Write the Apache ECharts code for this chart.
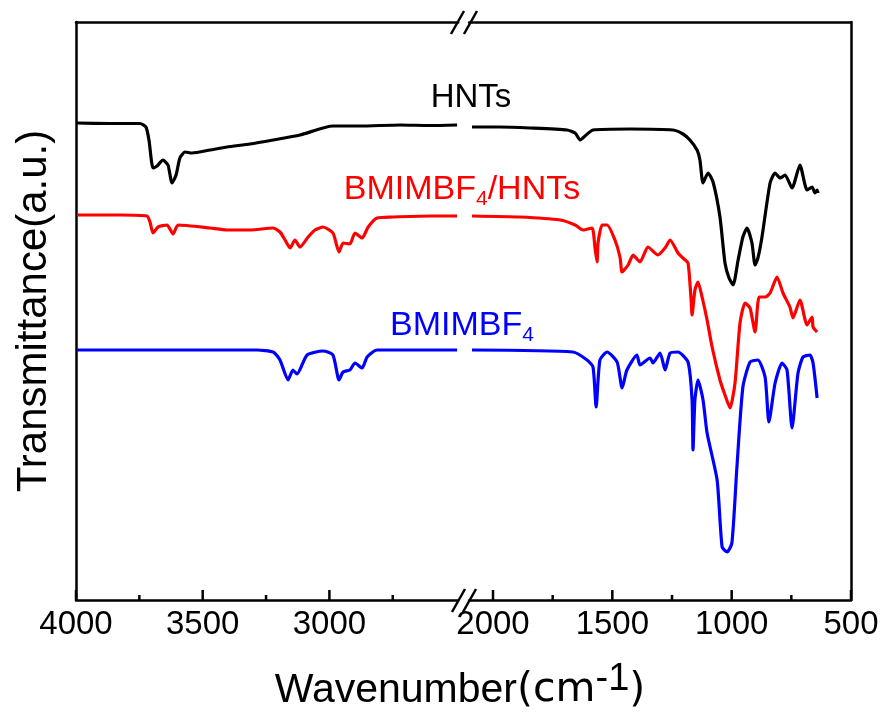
<!DOCTYPE html>
<html>
<head>
<meta charset="utf-8">
<script src="https://cdn.jsdelivr.net/npm/echarts@6/dist/echarts.min.js"></script>
<style>
  html, body { margin: 0; padding: 0; background: #fff; }
  #chart { width: 884px; height: 713px; }
</style>
</head>
<body>
<div id="chart"></div>
<script>
// ---------- Data (wavenumber in cm^-1, transmittance in a.u.) ----------
const leftRange = [2492, 4000];
const rightRange = [500, 2100];
const leftMajorTicks = [4000, 3500, 3000];
const leftMinorTicks = [3750, 3250, 2750];
const rightMajorTicks = [2000, 1500, 1000, 500];
const rightMinorTicks = [1750, 1250, 750];

const hntsLeftWn = [3996, 3866, 3747, 3724, 3712, 3696, 3680, 3657, 3637, 3621, 3605, 3590, 3570, 3542, 3471, 3404, 3313, 3222, 3116, 2986, 2879, 2721, 2603, 2496];
const hntsLeftT  = [477, 476.5, 476.5, 473, 460, 432, 434, 440, 435, 417, 425, 442, 448, 447, 450, 453, 456, 460, 465, 474, 474, 475, 474.5, 475];

const hntsRightWn = [2088, 1971, 1845, 1690, 1656, 1635, 1610, 1581, 1426, 1246, 1204, 1175, 1145, 1133, 1120, 1099, 1078, 1049, 1028, 1011, 994, 973, 953, 936, 915, 902, 890, 873, 839, 818, 797, 776, 747, 714, 684, 663, 651, 642, 638];
const hntsRightT  = [473, 473, 472, 470, 467, 460, 465, 470, 471, 470, 466, 460, 450, 440, 417, 427, 418, 383, 337, 322, 315, 340, 363, 372, 357, 335, 342, 363, 417, 427, 422, 425, 412, 435, 410, 413, 407, 410, 407];

const mixLeftWn = [3996, 3826, 3720, 3708, 3696, 3676, 3641, 3617, 3597, 3471, 3404, 3313, 3222, 3195, 3175, 3155, 3136, 3116, 3084, 3057, 3025, 2986, 2962, 2946, 2919, 2899, 2871, 2847, 2812, 2749, 2603, 2496];
const mixLeftT  = [385, 385, 384, 378, 367, 373, 375, 366, 375, 372, 370, 370, 372, 368, 360, 352, 360, 353, 363, 370, 373, 367, 348, 357, 356, 367, 362, 373, 382, 383, 384, 384];

const mixRightWn = [2088, 1887, 1719, 1656, 1623, 1585, 1573, 1564, 1560, 1543, 1522, 1489, 1468, 1459, 1434, 1413, 1384, 1351, 1309, 1279, 1258, 1225, 1204, 1183, 1170, 1166, 1154, 1141, 1124, 1103, 1082, 1049, 1028, 1007, 986, 965, 944, 923, 902, 885, 860, 839, 810, 785, 756, 743, 714, 684, 663, 659, 642];
const mixRightT  = [384, 383, 380, 375, 370, 372, 353, 338, 357, 375, 375, 360, 343, 328, 335, 345, 338, 353, 345, 352, 360, 347, 342, 337, 300, 285, 310, 318, 303, 280, 253, 220, 205, 192, 217, 277, 297, 292, 268, 303, 303, 307, 323, 307, 293, 282, 300, 275, 283, 273, 268];

const ilLeftWn = [3996, 3286, 3222, 3195, 3163, 3144, 3128, 3088, 3025, 2986, 2962, 2946, 2919, 2899, 2871, 2851, 2812, 2496];
const ilLeftT  = [250, 250, 248, 240, 220, 230, 226, 245, 249, 245, 220, 228, 230, 237, 232, 243, 250, 250];

const ilRightWn = [2088, 1665, 1606, 1581, 1568, 1552, 1522, 1480, 1459, 1439, 1397, 1384, 1342, 1330, 1300, 1279, 1258, 1225, 1183, 1166, 1162, 1154, 1141, 1120, 1103, 1061, 1040, 1019, 999, 978, 953, 923, 890, 860, 844, 818, 789, 768, 747, 722, 701, 672, 659, 642];
const ilRightT  = [250, 248, 240, 233, 193, 240, 248, 238, 212, 230, 245, 235, 242, 237, 247, 230, 247, 248, 238, 200, 150, 200, 220, 200, 167, 120, 53, 48, 57, 133, 213, 238, 240, 223, 178, 217, 237, 230, 172, 227, 243, 245, 237, 202];

const seriesNames = ['HNTs', 'BMIMBF4/HNTs', 'BMIMBF4'];
const seriesColors = ['#000000', '#ff0000', '#0000ff'];

function zip(a, b) { return a.map((v, i) => [v, b[i]]); }

const FONT = 'Liberation Sans, Arial, sans-serif';
const AX_W = 2.5;
const TOP = 22, HEIGHT = 578;
const AXIS_Y = TOP + HEIGHT;

// pixel scale of each axis segment (px per cm^-1), shared by grids and tick marks
const leftScale = 126.7 / 500;
const rightScale = 119.33 / 500;
const leftX4000 = 76;
const rightX500 = 851;
const lx = (w) => leftX4000 + (4000 - w) * leftScale;
const rx = (w) => rightX500 - (w - 500) * rightScale;
function gridFor(xa, xb) {
  return { left: Math.min(xa, xb), top: TOP, width: Math.abs(xb - xa), height: HEIGHT };
}

const chart = echarts.init(document.getElementById('chart'), null, { renderer: 'canvas' });

function bottomAxis(grid, range, labels) {
  return {
    gridIndex: grid, type: 'value', position: 'bottom', inverse: true, min: range[0], max: range[1],
    axisLine: { show: true, lineStyle: { color: '#000', width: AX_W } },
    axisTick: { show: false },
    axisLabel: {
      show: true, customValues: labels, fontSize: 33, color: '#000', fontFamily: FONT, margin: 8,
      formatter: (v) => String(v)
    },
    splitLine: { show: false }
  };
}
function topAxis(grid, range) {
  return {
    gridIndex: grid, type: 'value', position: 'top', inverse: true, min: range[0], max: range[1],
    axisLine: { show: true, lineStyle: { color: '#000', width: AX_W } },
    axisTick: { show: false }, axisLabel: { show: false }, splitLine: { show: false }
  };
}

function lineSeries(name, color, xIdx, yIdx, data) {
  return {
    name: name, type: 'line', xAxisIndex: xIdx, yAxisIndex: yIdx, data: data,
    showSymbol: false, smooth: 0.2, animation: false,
    lineStyle: { color: color, width: 3.2 }, itemStyle: { color: color }
  };
}

const seg = (x1, y1, x2, y2) => ({
  type: 'line', shape: { x1: x1, y1: y1, x2: x2, y2: y2 },
  style: { stroke: '#000', lineWidth: AX_W }, z: 100
});
const tickMarks = (values, toX, len) => values.map((v) => seg(toX(v), AXIS_Y, toX(v), AXIS_Y - len));

const option = {
  backgroundColor: '#fff',
  animation: false,
  grid: [
    gridFor(lx(leftRange[1]), lx(leftRange[0])),
    gridFor(rx(rightRange[1]), rx(rightRange[0]))
  ],
  xAxis: [
    bottomAxis(0, leftRange, leftMajorTicks),
    topAxis(0, leftRange),
    bottomAxis(1, rightRange, rightMajorTicks),
    topAxis(1, rightRange)
  ],
  yAxis: [
    {
      gridIndex: 0, type: 'value', position: 'left', min: 0, max: 578,
      axisLine: { show: true, lineStyle: { color: '#000', width: AX_W } },
      axisTick: { show: false }, axisLabel: { show: false }, splitLine: { show: false },
      name: 'Transmittance(a.u.)', nameLocation: 'middle', nameGap: 21,
      nameTextStyle: { fontSize: 42, color: '#000', fontFamily: FONT }
    },
    {
      gridIndex: 1, type: 'value', position: 'right', min: 0, max: 578,
      axisLine: { show: true, lineStyle: { color: '#000', width: AX_W } },
      axisTick: { show: false }, axisLabel: { show: false }, splitLine: { show: false }
    }
  ],
  series: [
    lineSeries(seriesNames[0], seriesColors[0], 0, 0, zip(hntsLeftWn, hntsLeftT)),
    lineSeries(seriesNames[1], seriesColors[1], 0, 0, zip(mixLeftWn, mixLeftT)),
    lineSeries(seriesNames[2], seriesColors[2], 0, 0, zip(ilLeftWn, ilLeftT)),
    lineSeries(seriesNames[0], seriesColors[0], 2, 1, zip(hntsRightWn, hntsRightT)),
    lineSeries(seriesNames[1], seriesColors[1], 2, 1, zip(mixRightWn, mixRightT)),
    lineSeries(seriesNames[2], seriesColors[2], 2, 1, zip(ilRightWn, ilRightT))
  ],
  graphic: [].concat(
    tickMarks(leftMajorTicks, lx, 10),
    tickMarks(leftMinorTicks, lx, 5),
    tickMarks(rightMajorTicks, rx, 10),
    tickMarks(rightMinorTicks, rx, 5),
    [
      // axis break marks
      seg(452, 612, 465, 589), seg(463, 612, 476, 589),
      seg(451, 34, 464, 11), seg(464, 34, 477, 11),
      // series labels
      {
        type: 'text', x: 471, y: 98, z: 100,
        style: { text: 'HNTs', fill: '#000', font: '33px ' + FONT, align: 'center', verticalAlign: 'middle' }
      },
      {
        type: 'text', x: 462, y: 190, z: 100,
        style: {
          text: '{a|BMIMBF}{s|4}{a|/HNTs}', align: 'center', verticalAlign: 'middle',
          rich: {
            a: { fontSize: 34, fontFamily: FONT, fill: '#ff0000', color: '#ff0000', lineHeight: 40, verticalAlign: 'middle' },
            s: { fontSize: 21, fontFamily: FONT, fill: '#ff0000', color: '#ff0000', lineHeight: 16, verticalAlign: 'bottom' }
          }
        }
      },
      {
        type: 'text', x: 462, y: 326, z: 100,
        style: {
          text: '{a|BMIMBF}{s|4}', align: 'center', verticalAlign: 'middle',
          rich: {
            a: { fontSize: 34, fontFamily: FONT, fill: '#0000ff', color: '#0000ff', lineHeight: 40, verticalAlign: 'middle' },
            s: { fontSize: 21, fontFamily: FONT, fill: '#0000ff', color: '#0000ff', lineHeight: 16, verticalAlign: 'bottom' }
          }
        }
      },
      // x axis title
      {
        type: 'text', x: 460, y: 686, z: 100,
        style: {
          text: '{a|Wavenumber}{b|(cm}{c|-1}{b|)}', align: 'center', verticalAlign: 'middle',
          rich: {
            a: { fontSize: 41, fontFamily: FONT, fill: '#000', color: '#000', lineHeight: 50, verticalAlign: 'bottom' },
            b: { fontSize: 41, fontFamily: 'DejaVu Sans', fill: '#000', color: '#000', lineHeight: 50, verticalAlign: 'bottom' },
            c: { fontSize: 38, fontFamily: FONT, fill: '#000', color: '#000', lineHeight: 34, verticalAlign: 'top' }
          }
        }
      }
    ]
  )
};
chart.setOption(option);
</script>
</body>
</html>
